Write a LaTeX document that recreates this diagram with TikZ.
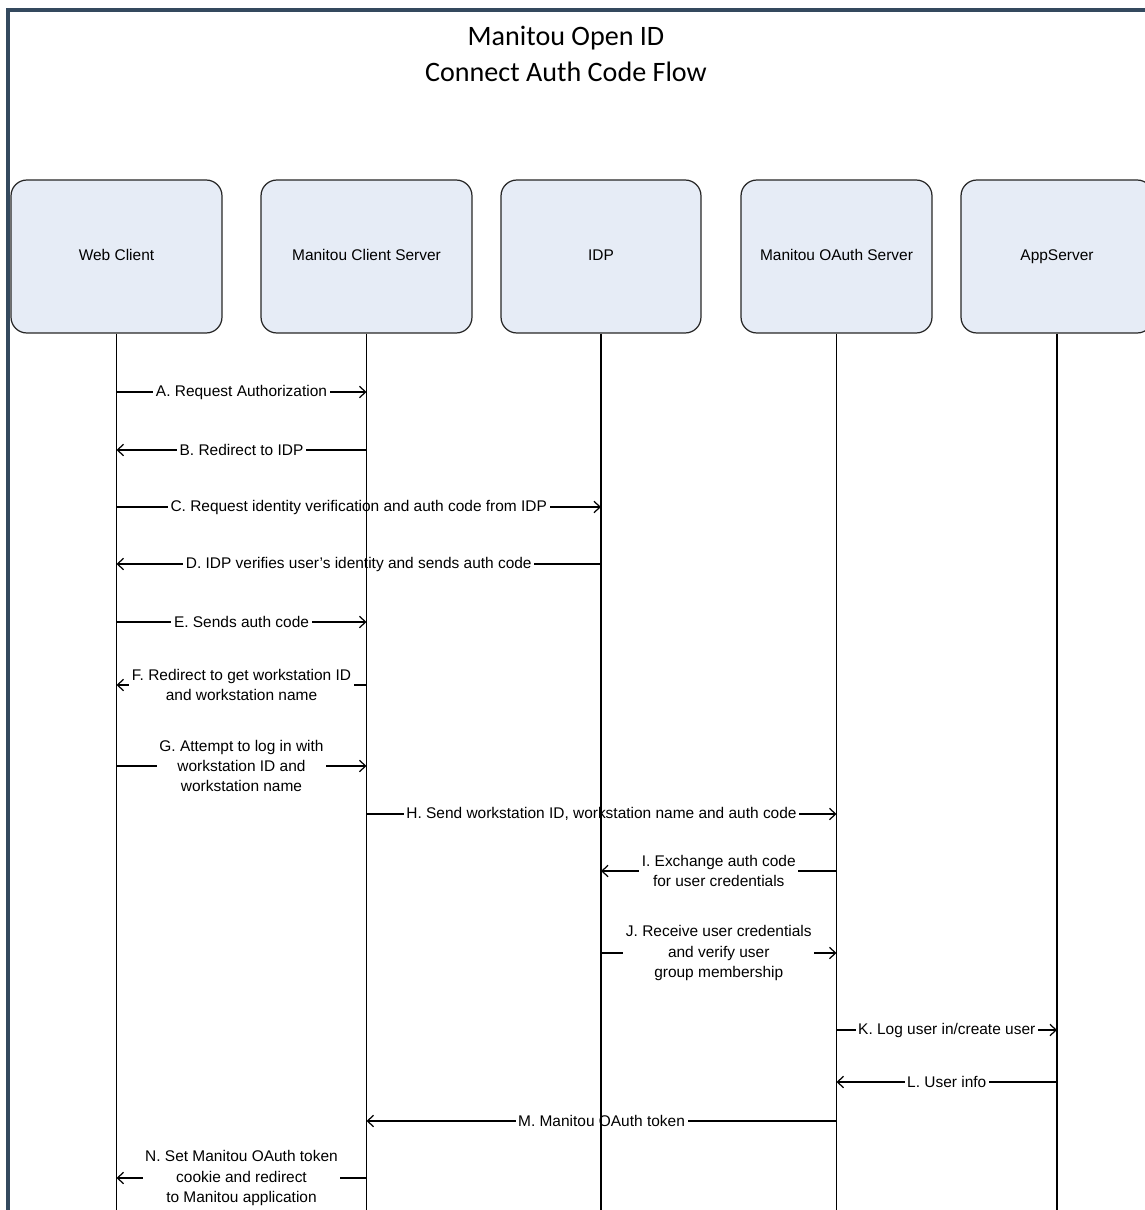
\documentclass[tikz,border=0pt]{standalone}
\usepackage{fontspec}
\setmainfont{Liberation Sans}
\newfontfamily\titlefont{Carlito}
\usetikzlibrary{arrows.meta,positioning}

\definecolor{boxfill}{RGB}{230,236,246}
\definecolor{framecol}{RGB}{52,73,94}

\tikzset{
    actor/.style={draw=black!85, fill=boxfill, rounded corners=9pt, line width=0.7pt,
        minimum height=3.06cm, text height=0.7em, text depth=0.2em,
        font=\fontsize{8.8}{11}\selectfont},
    lifeline/.style={line width=0.7pt},
    msg/.style={line width=0.7pt, -{Straight Barb[length=3.5pt,width=6.5pt]}},
    lbl/.style={fill=white, align=center, inner xsep=1.5pt, inner ysep=1pt,
        font=\fontsize{8.8}{11.4}\selectfont},
}

\begin{document}
\begin{tikzpicture}[x=0.02cm, y=-0.02cm]
    \useasboundingbox (0,0) rectangle (1144,1210);

    % Frame
    \draw[framecol, line width=2.3pt] (8,1215) -- (8,10) -- (1150,10);

    % Title
    \node[align=center, font=\titlefont\fontsize{16}{20}\selectfont] (title) at (566,54)
        {Manitou Open ID\\Connect Auth Code Flow};

    % Participants
    \node[actor, minimum width=4.22cm] (wc) at (116.5,256.5) {Web Client};
    \node[actor, minimum width=4.22cm] (mcs) at (366.5,256.5) {Manitou Client Server};
    \node[actor, minimum width=4.0cm] (idp) at (601,256.5) {IDP};
    \node[actor, minimum width=3.82cm] (oas) at (836.5,256.5) {Manitou OAuth Server};
    \node[actor, minimum width=3.84cm] (app) at (1057,256.5) {AppServer};

    % Messages
    \draw[msg] (wc |- 0,392) -- node[lbl] {A. Request Authorization} (mcs |- 0,392);
    \draw[msg] (mcs |- 0,450) -- node[lbl] {B. Redirect to IDP} (wc |- 0,450);
    \draw[msg] (wc |- 0,507) -- node[lbl] {C. Request identity verification and auth code from IDP} (idp |- 0,507);
    \draw[msg] (idp |- 0,564) -- node[lbl] {D. IDP verifies user’s identity and sends auth code} (wc |- 0,564);
    \draw[msg] (wc |- 0,622) -- node[lbl] {E. Sends auth code} (mcs |- 0,622);
    \draw[msg] (mcs |- 0,685) -- node[lbl] {F. Redirect to get workstation ID\\and workstation name} (wc |- 0,685);
    \draw[msg] (wc |- 0,766) -- node[lbl] {G. Attempt to log in with\\workstation ID and\\workstation name} (mcs |- 0,766);
    \draw[msg] (mcs |- 0,814) -- node[lbl] {H. Send workstation ID, workstation name and auth code} (oas |- 0,814);
    \draw[msg] (oas |- 0,871) -- node[lbl] {I. Exchange auth code\\for user credentials} (idp |- 0,871);
    \draw[msg] (idp |- 0,953) -- node[lbl] {J. Receive user credentials\\and verify user\\group membership} (oas |- 0,953);
    \draw[msg] (oas |- 0,1030) -- node[lbl] {K. Log user in/create user} (app |- 0,1030);
    \draw[msg] (app |- 0,1082) -- node[lbl] {L. User info} (oas |- 0,1082);
    \draw[msg] (oas |- 0,1121) -- node[lbl] {M. Manitou OAuth token} (mcs |- 0,1121);
    \draw[msg] (mcs |- 0,1178) -- node[lbl] {N. Set Manitou OAuth token\\cookie and redirect\\to Manitou application} (wc |- 0,1178);

    % Lifelines
    \foreach \p in {wc,mcs,idp,oas,app}
        \draw[lifeline] (\p.south) -- (\p.south |- 0,1215);
\end{tikzpicture}
\end{document}
